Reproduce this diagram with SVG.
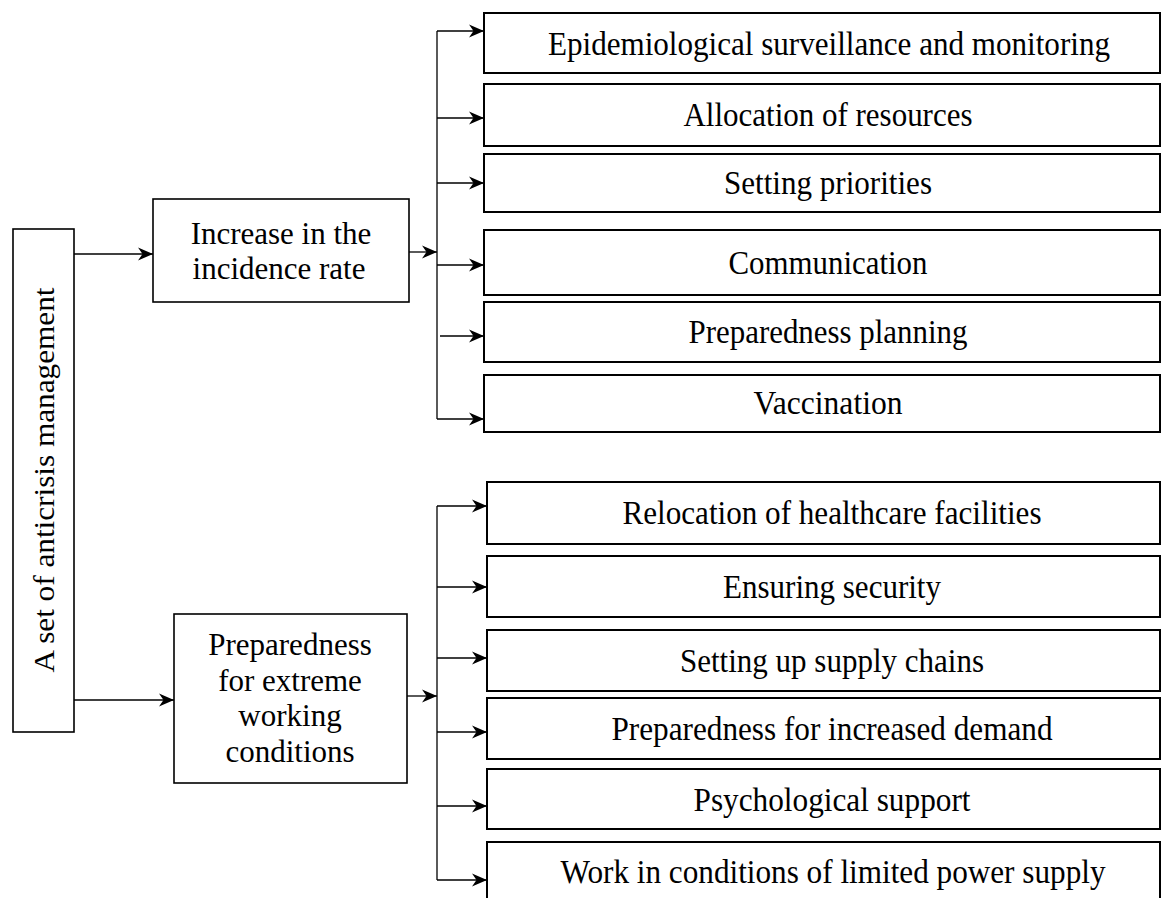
<svg xmlns="http://www.w3.org/2000/svg" width="1162" height="898" viewBox="0 0 1162 898">
<style>
.box{fill:#fff;stroke:#000;stroke-width:2}
.mbox{fill:#fff;stroke:#000;stroke-width:1.6}
.t{font-family:"Liberation Serif","Times New Roman",serif;font-size:33px;fill:#000;text-anchor:middle}
.m{font-family:"Liberation Serif","Times New Roman",serif;font-size:31px;fill:#000;text-anchor:middle}
.c{fill:none;stroke:#000;stroke-width:1.3}
</style>
<defs>
<marker id="ah" markerUnits="userSpaceOnUse" markerWidth="16" markerHeight="14" refX="15" refY="7" orient="auto">
<path d="M0,0.5 L15,7 L0,13.5 L4.5,7 z" fill="#000"/>
</marker>
</defs>
<g id="connectors">
<path class="c" d="M74,254 H153" marker-end="url(#ah)"/>
<path class="c" d="M74,700 H174" marker-end="url(#ah)"/>
<path class="c" d="M409,252 H437" marker-end="url(#ah)"/>
<path class="c" d="M437,31 V419"/>
<path class="c" d="M437,31 H484" marker-end="url(#ah)"/>
<path class="c" d="M437,118 H484" marker-end="url(#ah)"/>
<path class="c" d="M437,183 H484" marker-end="url(#ah)"/>
<path class="c" d="M437,265 H484" marker-end="url(#ah)"/>
<path class="c" d="M440,336 H484" marker-end="url(#ah)"/>
<path class="c" d="M437,419 H484" marker-end="url(#ah)"/>
<path class="c" d="M407,696 H437" marker-end="url(#ah)"/>
<path class="c" d="M437,506 V880"/>
<path class="c" d="M437,506 H487" marker-end="url(#ah)"/>
<path class="c" d="M437,587 H487" marker-end="url(#ah)"/>
<path class="c" d="M437,658 H487" marker-end="url(#ah)"/>
<path class="c" d="M437,732 H487" marker-end="url(#ah)"/>
<path class="c" d="M437,806 H487" marker-end="url(#ah)"/>
<path class="c" d="M437,880 H487" marker-end="url(#ah)"/>
</g>
<g id="root">
<rect class="mbox" x="13" y="229" width="61" height="503"/>
<text class="m" style="font-size:30px" transform="translate(54,480) rotate(-90)" textLength="385" lengthAdjust="spacingAndGlyphs">A set of anticrisis management</text>
</g>
<g id="increase">
<rect class="mbox" x="153" y="199" width="256" height="103"/>
<text class="m" x="281" y="244">Increase in the</text>
<text class="m" x="279" y="279">incidence rate</text>
</g>
<g id="prepared">
<rect class="mbox" x="174" y="614" width="233" height="169"/>
<text class="m" x="290" y="655">Preparedness</text>
<text class="m" x="290" y="691">for extreme</text>
<text class="m" x="290" y="726">working</text>
<text class="m" x="290" y="762">conditions</text>
</g>
<g id="n1"><rect class="box" x="484" y="13" width="676" height="60"/><text class="t" x="829" y="55" textLength="562" lengthAdjust="spacingAndGlyphs">Epidemiological surveillance and monitoring</text></g>
<g id="n2"><rect class="box" x="484" y="84" width="676" height="62"/><text class="t" x="828" y="126" textLength="289" lengthAdjust="spacingAndGlyphs">Allocation of resources</text></g>
<g id="n3"><rect class="box" x="484" y="154" width="676" height="58"/><text class="t" x="828" y="194" textLength="208" lengthAdjust="spacingAndGlyphs">Setting priorities</text></g>
<g id="n4"><rect class="box" x="484" y="230" width="676" height="65"/><text class="t" x="828" y="274" textLength="199" lengthAdjust="spacingAndGlyphs">Communication</text></g>
<g id="n5"><rect class="box" x="484" y="302" width="676" height="60"/><text class="t" x="828" y="343" textLength="279" lengthAdjust="spacingAndGlyphs">Preparedness planning</text></g>
<g id="n6"><rect class="box" x="484" y="375" width="676" height="57"/><text class="t" x="828" y="414" textLength="149" lengthAdjust="spacingAndGlyphs">Vaccination</text></g>
<g id="n7"><rect class="box" x="487" y="482" width="673" height="62"/><text class="t" x="832" y="524" textLength="419" lengthAdjust="spacingAndGlyphs">Relocation of healthcare facilities</text></g>
<g id="n8"><rect class="box" x="487" y="556" width="673" height="61"/><text class="t" x="832" y="598" textLength="218" lengthAdjust="spacingAndGlyphs">Ensuring security</text></g>
<g id="n9"><rect class="box" x="487" y="630" width="673" height="61"/><text class="t" x="832" y="672" textLength="304" lengthAdjust="spacingAndGlyphs">Setting up supply chains</text></g>
<g id="n10"><rect class="box" x="487" y="698" width="673" height="61"/><text class="t" x="832" y="740" textLength="441" lengthAdjust="spacingAndGlyphs">Preparedness for increased demand</text></g>
<g id="n11"><rect class="box" x="487" y="769" width="673" height="60"/><text class="t" x="832" y="811" textLength="277" lengthAdjust="spacingAndGlyphs">Psychological support</text></g>
<g id="n12"><rect class="box" x="487" y="842" width="673" height="70"/><text class="t" x="833" y="883" textLength="545" lengthAdjust="spacingAndGlyphs">Work in conditions of limited power supply</text></g>
</svg>
